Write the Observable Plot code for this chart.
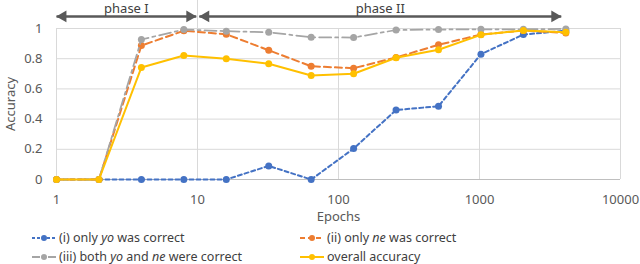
<!DOCTYPE html>
<html><head><meta charset="utf-8">
<script src="https://cdn.jsdelivr.net/npm/d3@7"></script>
<script src="https://cdn.jsdelivr.net/npm/@observablehq/plot@0.6"></script>
<style>
body{margin:0;background:#fff;font-family:"Noto Sans",sans-serif;color:#404040;}
#wrap{width:640px;height:264px;position:relative;overflow:hidden;}
#legend{position:absolute;left:0;top:228px;width:640px;font-size:12.5px;line-height:19px;}
.item{position:absolute;display:flex;align-items:center;white-space:nowrap;}
.item svg{margin-right:3px;}
</style></head><body>
<div id="wrap"><div id="chart"></div><div id="legend"></div></div>
<script>
const epochs = [1, 2, 4, 8, 16, 32, 64, 128, 256, 512, 1024, 2048, 4096];
const onlyYo  = [0, 0, 0, 0, 0, 0.09, 0, 0.205, 0.46, 0.485, 0.83, 0.96, 0.985];
const onlyNe  = [0, 0, 0.887, 0.985, 0.962, 0.856, 0.75, 0.737, 0.808, 0.892, 0.96, 0.987, 0.97];
const both    = [0, 0, 0.927, 0.993, 0.982, 0.975, 0.942, 0.94, 0.99, 0.993, 0.995, 0.995, 0.997];
const overall = [0, 0, 0.742, 0.821, 0.80, 0.766, 0.689, 0.70, 0.806, 0.859, 0.958, 0.987, 0.975];
const xTicks = [1, 10, 100, 1000, 10000];
const yTicks = [0, 0.2, 0.4, 0.6, 0.8, 1];
const phaseLabels = ["phase I", "phase II"];
const phaseStart = [1, 10.3];
const phaseEnd = [9.8, 3800];
const phaseBoundary = [10];

const seriesNames = ["(i) only yo was correct", "(ii) only ne was correct", "(iii) both yo and ne were correct", "overall accuracy"];
const seriesValues = [onlyYo, onlyNe, both, overall];
const colors = ["#4472C4", "#ED7D31", "#A5A5A5", "#FFC000"];
const dashes = ["4,3", "7,4", "12,4,3,4", null];

const tables = seriesValues.map(vals => epochs.map((e, i) => ({x: e, y: vals[i]})));
const phases = phaseLabels.map((l, i) => ({label: l, x1: phaseStart[i], x2: phaseEnd[i], xm: Math.sqrt(phaseStart[i] * phaseEnd[i])}));
const ARROW_Y = 1.08;
const grey = "#595959";

const seriesMarks = [];
tables.forEach((t, i) => {
  seriesMarks.push(Plot.line(t, {x: "x", y: "y", stroke: colors[i], strokeWidth: i === 2 ? 1.75 : 2, strokeDasharray: dashes[i] || undefined}));
  seriesMarks.push(Plot.dot(t, {x: "x", y: "y", fill: colors[i], r: 3.5}));
});

const chart = Plot.plot({
  width: 640, height: 226,
  marginTop: 28, marginBottom: 47, marginLeft: 56, marginRight: 20,
  style: {fontFamily: "'Noto Sans', sans-serif", fontSize: "13px", color: grey, overflow: "visible"},
  x: {type: "log", domain: [1, 10000]},
  y: {domain: [0, 1]},
  marks: [
    Plot.gridY(yTicks, {stroke: "#d9d9d9", strokeOpacity: 1}),
    Plot.gridX(xTicks, {stroke: "#d9d9d9", strokeOpacity: 1}),
    Plot.ruleX(phaseBoundary, {y1: 0, y2: 1.19, stroke: "#d9d9d9"}),
    Plot.ruleY([0], {stroke: "#bfbfbf"}),
    Plot.axisX({ticks: xTicks, tickFormat: d => String(d), tickSize: 0, tickPadding: 15, label: "Epochs", labelAnchor: "center", labelArrow: "none", labelOffset: 41, fill: grey}),
    Plot.axisY({ticks: yTicks, tickFormat: d => String(d), tickSize: 0, tickPadding: 14, label: "Accuracy", labelAnchor: "center", labelArrow: "none", labelOffset: 51, fill: grey}),
    ...seriesMarks,
    Plot.link(phases, {x1: "x1", x2: "x2", y1: () => ARROW_Y, y2: () => ARROW_Y, stroke: grey, strokeWidth: 2.5}),
    Plot.dot(phases, {x: "x1", y: () => ARROW_Y, symbol: "triangle", r: 4.4, rotate: -90, fill: grey, dx: 6.5}),
    Plot.dot(phases, {x: "x2", y: () => ARROW_Y, symbol: "triangle", r: 4.4, rotate: 90, fill: grey, dx: -6.5}),
    Plot.text(phases, {x: "xm", y: () => ARROW_Y, text: "label", dy: -8, lineAnchor: "middle", fill: "#404040", fontSize: 13})
  ]
});
document.getElementById("chart").appendChild(chart);

// Legend
const legend = document.getElementById("legend");
const pos = [[32, 0], [300, 0], [32, 19], [300, 19]];
function labelHTML(s) {
  return s.replace(/\byo\b/g, "<i>yo</i>").replace(/\bne\b/g, "<i>ne</i>");
}
seriesNames.forEach((name, i) => {
  const d = document.createElement("div");
  d.className = "item";
  d.style.left = pos[i][0] + "px";
  d.style.top = pos[i][1] + "px";
  const dash = dashes[i] ? `stroke-dasharray="${i === 2 ? '8,3,2,3' : (i === 1 ? '5,3' : '3,2')}"` : "";
  d.innerHTML = `<svg width="24" height="10"><line x1="0" y1="5" x2="24" y2="5" stroke="${colors[i]}" stroke-width="2" ${dash}/><circle cx="12" cy="5" r="3" fill="${colors[i]}"/></svg><span>${labelHTML(name)}</span>`;
  legend.appendChild(d);
});
</script>
</body></html>
